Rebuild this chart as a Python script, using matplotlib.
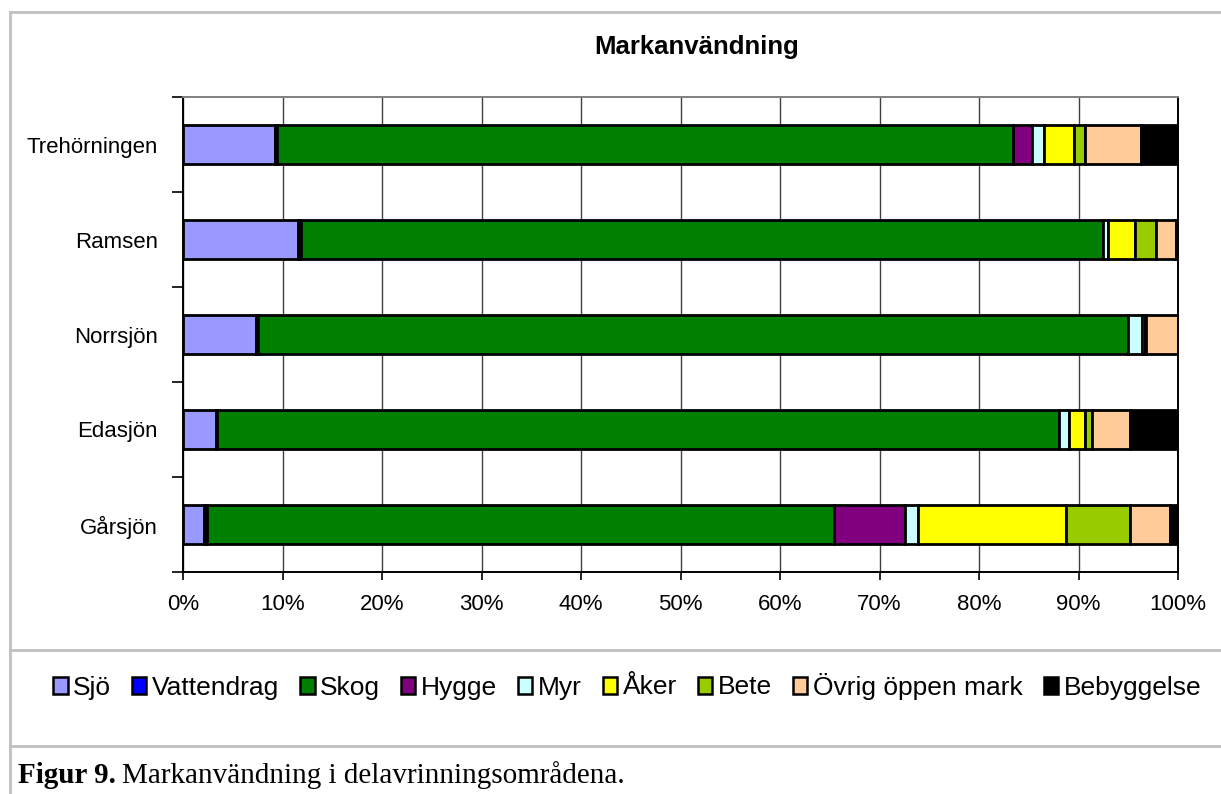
import matplotlib
matplotlib.use('Agg')
import matplotlib.pyplot as plt
from matplotlib.lines import Line2D
from matplotlib.patches import Patch
import numpy as np

# Data (percent of catchment area)
lakes = ['Trehörningen', 'Ramsen', 'Norrsjön', 'Edasjön', 'Gårsjön']
classes = ['Sjö', 'Vattendrag', 'Skog', 'Hygge', 'Myr', 'Åker', 'Bete',
           'Övrig öppen mark', 'Bebyggelse']
colors = ['#9999FF', '#0000FF', '#008000', '#800080', '#CCFFFF', '#FFFF00',
          '#99CC00', '#FFCC99', '#000000']

sjo = [9.2, 11.6, 7.3, 3.3, 2.1]
vattendrag = [0.2, 0.3, 0.2, 0.1, 0.3]
skog = [74.0, 80.6, 87.5, 84.6, 63.0]
hygge = [1.9, 0.0, 0.0, 0.0, 7.2]
myr = [1.2, 0.5, 1.4, 1.0, 1.3]
aker = [3.0, 2.7, 0.3, 1.7, 14.8]
bete = [1.2, 2.1, 0.1, 0.7, 6.5]
ovrig = [5.6, 2.0, 3.2, 3.8, 4.0]
bebyggelse = [3.7, 0.2, 0.0, 4.8, 0.8]

series = [sjo, vattendrag, skog, hygge, myr, aker, bete, ovrig, bebyggelse]

W, H = 1221, 794
fig = plt.figure(figsize=(W / 100, H / 100), dpi=100)
ax = fig.add_axes([183 / W, 1 - 572 / H, (1178 - 183) / W, (572 - 97) / H])

y = np.arange(len(lakes))[::-1]  # Trehörningen on top
left = np.zeros(len(lakes))
for name, vals, c in zip(classes, series, colors):
    vals = np.array(vals)
    ax.barh(y, vals, left=left, height=0.4, color=c, edgecolor='black',
            linewidth=2.0, label=name, zorder=3)
    left += vals

ax.set_xlim(0, 100)
ax.set_ylim(-0.5, len(lakes) - 0.5)

# Axes styling
ax.set_xticks(np.arange(0, 101, 10))
ax.set_xticklabels([f'{v}%' for v in range(0, 101, 10)], fontsize=16,
                   family='Liberation Sans')
ax.set_yticks(y)
ax.set_yticklabels(lakes, fontsize=16, family='Liberation Sans')
ax.tick_params(axis='y', which='major', length=0, pad=18)
ax.set_yticks(np.arange(-0.5, len(lakes), 1.0), minor=True)
ax.tick_params(axis='y', which='minor', length=8, width=1.2, direction='out')
ax.tick_params(axis='x', length=6, width=1.2, direction='out', pad=10)
ax.grid(axis='x', color='#404040', linewidth=1.0, zorder=0)

for s in ['left', 'bottom', 'right']:
    ax.spines[s].set_color('black')
    ax.spines[s].set_linewidth(1.4)
ax.spines['top'].set_color('#808080')
ax.spines['top'].set_linewidth(1.4)

# Title
fig.text(697 / W, 1 - 47 / H, 'Markanvändning', ha='center', va='center',
         fontsize=18.5, fontweight='bold', family='Liberation Sans')

# Legend
handles = [Patch(facecolor=c, edgecolor='black', linewidth=1.8) for c in colors]
fig.legend(handles, classes, loc='center', bbox_to_anchor=(627 / W, 1 - 686 / H),
           ncol=9, frameon=False, prop={'family': 'Liberation Sans', 'size': 19},
           handlelength=0.55, handleheight=0.6, handletextpad=0.2,
           columnspacing=0.8, borderpad=0)

# Frame lines
grey = '#C0C0C0'
fig.add_artist(Line2D([10 / W, 10 / W], [0, 1 - 12 / H], color=grey, lw=2,
                      transform=fig.transFigure))
for yy in [12, 650, 746]:
    fig.add_artist(Line2D([10 / W, 1], [1 - yy / H, 1 - yy / H], color=grey,
                          lw=2, transform=fig.transFigure))

# Caption
t1 = fig.text(18 / W, 1 - 783 / H, 'Figur 9.', fontsize=21, fontweight='bold',
              family='Liberation Serif', va='baseline')
fig.canvas.draw()
bb = t1.get_window_extent()
fig.text((bb.x1 + 6) / W, 1 - 783 / H, 'Markanvändning i delavrinningsområdena.',
         fontsize=21, family='Liberation Serif', va='baseline')

fig.savefig('out.png', dpi=100)
